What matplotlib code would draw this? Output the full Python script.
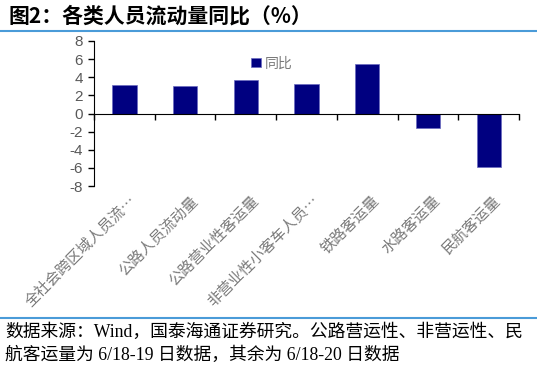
import matplotlib
matplotlib.use('Agg')
import matplotlib.pyplot as plt
import matplotlib.transforms as mtransforms
import numpy as np

categories = ['全社会跨区域人员流…', '公路人员流动量', '公路营业性客运量',
              '非营业性小客车人员…', '铁路客运量', '水路客运量', '民航客运量']
values = [3.2, 3.0, 3.7, 3.3, 5.5, -1.65, -5.9]
yticks = [-8, -6, -4, -2, 0, 2, 4, 6, 8]

CJK = ['Noto Sans CJK SC', 'DejaVu Sans']
SERIF = ['Liberation Serif', 'Noto Sans CJK SC']
NAVY = '#000080'
GRAY = '#595959'
LIGHT = '#7a7a7a'
BLUE = '#4A9BD8'

fig = plt.figure(figsize=(5.37, 3.69), dpi=100)
ax = fig.add_axes([94 / 537, 1 - 186 / 369, 425 / 537, 145 / 369])

x = np.arange(len(categories))
ax.bar(x, values, width=0.4, color=NAVY, edgecolor='#6a6ac0', linewidth=0.5, label='同比')
ax.set_xlim(-0.5, len(categories) - 0.5)
ax.set_ylim(-8, 8)
ax.set_yticks(yticks)
ax.set_yticklabels([str(v) for v in yticks], color=GRAY, fontsize=11, family='Liberation Sans')
ax.tick_params(axis='y', direction='out', length=4, width=1, pad=4)

ax.spines['top'].set_visible(False)
ax.spines['right'].set_visible(False)
ax.spines['bottom'].set_position(('data', 0))
ax.set_xticks(np.arange(len(categories) + 1) - 0.5)
ax.set_xticklabels([])
ax.tick_params(axis='x', direction='out', length=4, width=1)

trans = mtransforms.blended_transform_factory(ax.transData, ax.transAxes)
for xi, lab in zip(x, categories):
    ax.text(xi + 0.08, -0.05, lab, transform=trans, rotation=45, ha='right', va='top',
            rotation_mode='anchor', fontsize=10.8, color=LIGHT, family=CJK)

leg = ax.legend(loc='upper left', bbox_to_anchor=(0.34, 0.98), frameon=False,
                prop={'family': CJK, 'size': 10}, handlelength=0.7, handleheight=0.7,
                handletextpad=0.3)
for t in leg.get_texts():
    t.set_color(LIGHT)

fig.text(8 / 537, 1 - 16 / 369, '图2：各类人员流动量同比（%）', fontsize=15, fontweight='bold',
         family=CJK, va='center', ha='left')
fig.add_artist(plt.Line2D([0, 1], [1 - 31 / 369, 1 - 31 / 369], color=BLUE, lw=1.5))
fig.add_artist(plt.Line2D([0, 1], [1 - 318 / 369, 1 - 318 / 369], color=BLUE, lw=1.5))
fig.text(5 / 537, 1 - 332 / 369, '数据来源：Wind，国泰海通证券研究。公路营运性、非营运性、民',
         fontsize=12.8, family=SERIF, va='center', ha='left')
fig.text(5 / 537, 1 - 355 / 369, '航客运量为 6/18-19 日数据，其余为 6/18-20 日数据',
         fontsize=12.8, family=SERIF, va='center', ha='left')

fig.savefig('out.png', dpi=100)
plt.close(fig)
